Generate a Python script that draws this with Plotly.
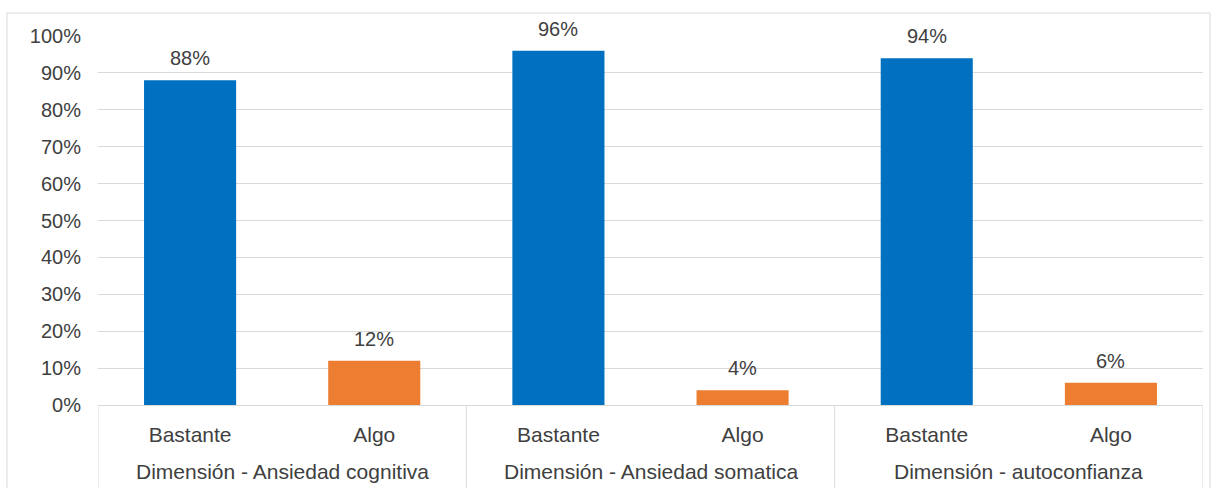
import plotly.graph_objects as go

groups = ["Dimensión - Ansiedad cognitiva", "Dimensión - Ansiedad somatica", "Dimensión - autoconfianza"]
levels = ["Bastante", "Algo"]
values = [0.88, 0.12, 0.96, 0.04, 0.94, 0.06]
level_colors = {"Bastante": "#0070C0", "Algo": "#ED7D31"}
y_ticks = [0, 0.1, 0.2, 0.3, 0.4, 0.5, 0.6, 0.7, 0.8, 0.9, 1.0]

inner = [l for _ in groups for l in levels]
pos = list(range(len(inner)))
colors = [level_colors[l] for l in inner]
n_lv = len(levels)

W, H = 1212, 488
L, R, T, B = 98, 9, 36, 83
FONT = "Liberation Sans, Arial, sans-serif"
TXT = "#404040"
GRID = "#d9d9d9"
FS = 20
FSX = 21

fig = go.Figure(go.Bar(
    x=pos, y=values,
    marker=dict(color=colors, line=dict(width=0)),
    width=0.5, hoverinfo="skip",
))

# data labels
for p, v in zip(pos, values):
    fig.add_annotation(x=p, y=v, xref="x", yref="y", text=f"{round(v*100)}%",
                       showarrow=False, yanchor="bottom", yshift=9,
                       font=dict(size=FS, color=TXT, family=FONT))

pw = W - L - R
ph = H - T - B
bottom_paper = -(H + 5 - T - ph) / ph

# group labels and dividers
for gi, g in enumerate(groups):
    center = gi * n_lv + (n_lv - 1) / 2
    fig.add_annotation(x=center, y=0, xref="x", yref="paper", text=g,
                       showarrow=False, yanchor="middle", yshift=-66,
                       font=dict(size=FSX, color=TXT, family=FONT))
for gi in range(len(groups) + 1):
    xd = gi * n_lv - 0.5
    fig.add_shape(type="line", xref="x", yref="paper", x0=xd, x1=xd,
                  y0=0, y1=bottom_paper, line=dict(color=GRID, width=1))

# outer border
fig.add_shape(type="rect", xref="paper", yref="paper",
              x0=(7 - L) / pw, x1=(1210 - L) / pw,
              y0=bottom_paper - 0.05, y1=1 + (T - 13) / ph,
              line=dict(color=GRID, width=1), layer="below")

fig.update_layout(
    width=W, height=H,
    margin=dict(l=L, r=R, t=T, b=B, pad=0),
    paper_bgcolor="white", plot_bgcolor="white",
    showlegend=False,
    font=dict(family=FONT, size=FS, color=TXT),
)
fig.update_yaxes(range=[0, 1], tickvals=y_ticks, tickformat=".0%",
                 showgrid=True, gridcolor=GRID, gridwidth=1,
                 zeroline=False, showline=False, ticks="",
                 ticklabelstandoff=16,
                 tickfont=dict(size=FS, color=TXT, family=FONT))
fig.update_xaxes(range=[-0.5, len(pos) - 0.5], tickvals=pos, ticktext=inner,
                 showgrid=False, zeroline=False,
                 showline=True, linecolor=GRID, ticks="",
                 ticklabelstandoff=11,
                 tickfont=dict(size=FSX, color=TXT, family=FONT))

fig.write_html("out.html")
